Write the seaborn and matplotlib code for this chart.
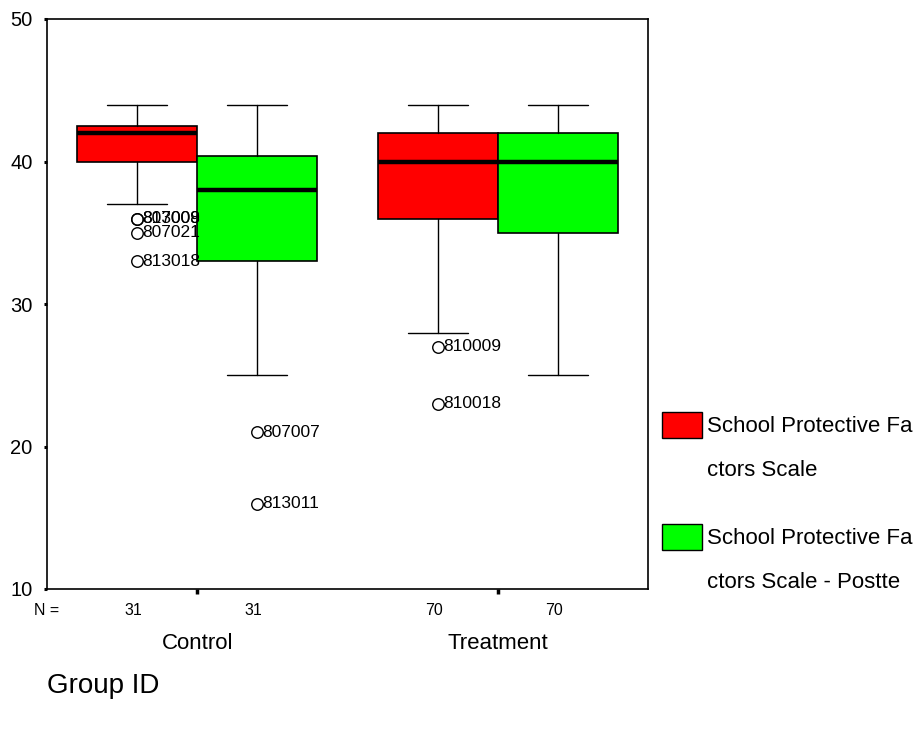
import matplotlib
matplotlib.use("Agg")
import matplotlib.pyplot as plt
from matplotlib.patches import Rectangle
import seaborn as sns

# ---- data ----
groups = ["Control", "Treatment"]
series = ["School Protective Factors Scale", "School Protective Factors Scale - Posttest"]
legend_lines = [["School Protective Fa", "ctors Scale"],
                ["School Protective Fa", "ctors Scale - Postte"]]
colors = ["#ff0000", "#00ff00"]
# order: Control-pre, Control-post, Treatment-pre, Treatment-post
n_counts = [31, 31, 70, 70]
whislo = [37, 25, 28, 25]
q1 = [40, 33, 36, 35]
med = [42, 38, 40, 40]
q3 = [42.5, 40.4, 42, 42]
whishi = [44, 44, 44, 44]
outlier_vals = [[36, 36, 35, 33], [21, 16], [27, 23], []]
outlier_ids = [["807009", "813008", "807021", "813018"], ["807007", "813011"],
               ["810009", "810018"], []]
yticks = [10, 20, 30, 40, 50]

sns.set_style("white")
plt.rcParams["font.family"] = ["Liberation Sans", "DejaVu Sans"]
plt.rcParams["text.color"] = "black"
plt.rcParams["xtick.color"] = "black"
plt.rcParams["ytick.color"] = "black"
plt.rcParams["axes.labelcolor"] = "black"

W, H = 919, 730
fig = plt.figure(figsize=(W / 100, H / 100), dpi=100)
ax = fig.add_axes([47 / W, 1 - 589 / H, (648 - 47) / W, (589 - 19) / H])

stats, positions, facecols = [], [], []
k = 0
for gi, g in enumerate(groups):
    for si, s in enumerate(series):
        stats.append(dict(whislo=whislo[k], q1=q1[k], med=med[k], q3=q3[k],
                          whishi=whishi[k], fliers=outlier_vals[k]))
        positions.append(gi + (-0.2 if si == 0 else 0.2))
        facecols.append(colors[si])
        k += 1

bp = ax.bxp(stats, positions=positions, widths=0.4, capwidths=0.2,
            patch_artist=True, manage_ticks=False,
            boxprops=dict(edgecolor="black", linewidth=1.2),
            medianprops=dict(color="black", linewidth=3.2, solid_capstyle="butt"),
            whiskerprops=dict(color="black", linewidth=1.0),
            capprops=dict(color="black", linewidth=1.0),
            flierprops=dict(marker="o", markerfacecolor="none",
                            markeredgecolor="black", markersize=8.3,
                            markeredgewidth=1.0))
for patch, c in zip(bp["boxes"], facecols):
    patch.set_facecolor(c)

# outlier labels
for pos, vals, ids in zip(positions, outlier_vals, outlier_ids):
    for v, lab in zip(vals, ids):
        ax.annotate(lab, (pos, v), xytext=(3.8, 0), textcoords="offset points",
                    ha="left", va="center", fontsize=12.5, color="black")

ax.set_xlim(-0.5, 1.5)
ax.set_ylim(10, 50)
ax.set_yticks(yticks)
ax.set_yticklabels([str(t) for t in yticks], fontsize=14.5)
ax.set_xticks(range(len(groups)))
ax.set_xticklabels(groups, fontsize=16)
ax.tick_params(axis="y", direction="out", length=2.5, width=2.2, color="black", pad=8,
               left=True, labelcolor="black")
ax.tick_params(axis="x", direction="out", length=3.5, width=2.5, color="black", pad=28,
               bottom=True, labelcolor="black")
for sp in ax.spines.values():
    sp.set_visible(True)
    sp.set_color("black")
    sp.set_linewidth(1.2)

# N row
ax.text(-0.5, -0.038, "N =", transform=ax.get_xaxis_transform(), ha="center",
        va="center", fontsize=11.5, color="black")
for pos, n in zip(positions, n_counts):
    ax.text(pos - 0.012, -0.038, str(n), transform=ax.get_xaxis_transform(),
            ha="center", va="center", fontsize=11.5, color="black")

# axis title
fig.text(47 / W, 1 - 686 / H, "Group ID", ha="left", va="center", fontsize=20,
         color="black")

# legend (manual)
leg_top = [412, 524]
for i in range(2):
    y0 = leg_top[i]
    fig.patches.append(Rectangle((662 / W, 1 - (y0 + 26) / H), 40 / W, 26 / H,
                                 transform=fig.transFigure, facecolor=colors[i],
                                 edgecolor="black", linewidth=1.0))
    fig.text(707 / W, 1 - (y0 + 14) / H, legend_lines[i][0], ha="left",
             va="center", fontsize=16, color="black")
    fig.text(707 / W, 1 - (y0 + 58) / H, legend_lines[i][1], ha="left",
             va="center", fontsize=16, color="black")

fig.savefig("out.png", dpi=100)
